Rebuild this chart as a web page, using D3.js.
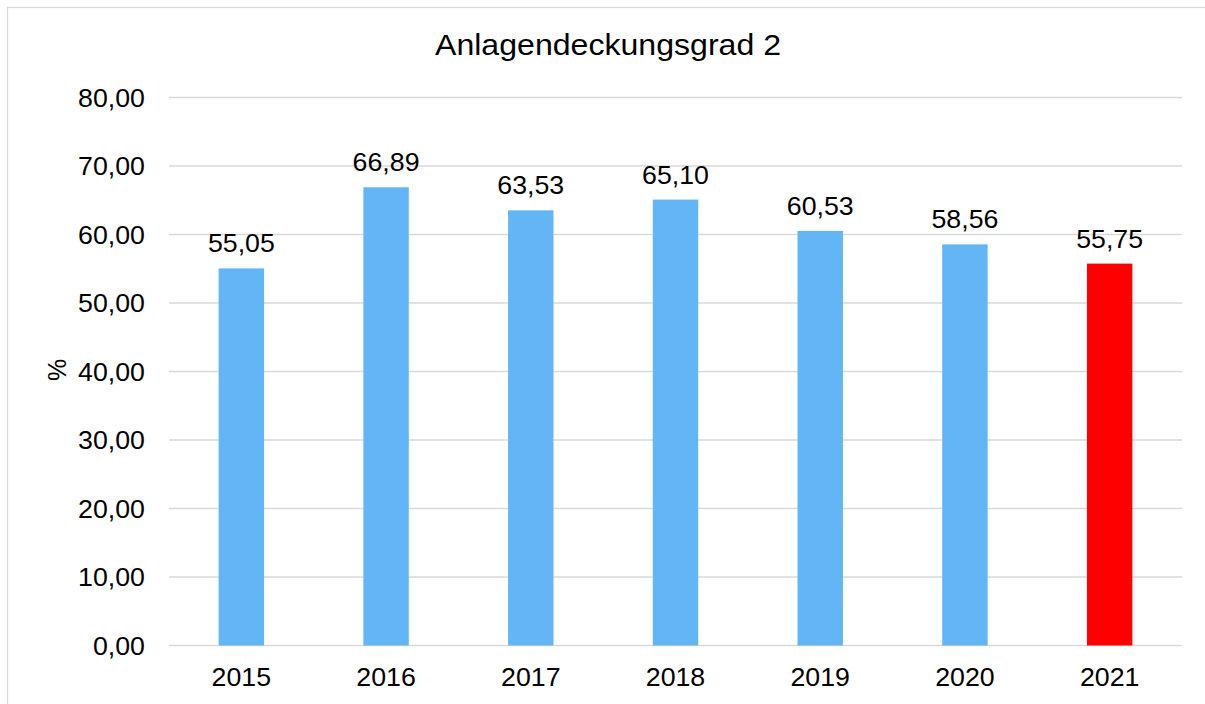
<!DOCTYPE html>
<html>
<head>
<meta charset="utf-8">
<script src="https://cdn.jsdelivr.net/npm/d3@7"></script>
<style>
  html, body { margin: 0; padding: 0; background: #fff; }
  svg { display: block; font-family: "Liberation Sans", Arial, sans-serif; }
</style>
</head>
<body>
<div id="chart"></div>
<script>
// Data
const years = ["2015", "2016", "2017", "2018", "2019", "2020", "2021"];
const values = [55.05, 66.89, 63.53, 65.10, 60.53, 58.56, 55.75];
const yTicks = [0, 10, 20, 30, 40, 50, 60, 70, 80];
const title = "Anlagendeckungsgrad 2";

// Config
const width = 1205, height = 704;
const plot = { left: 169, right: 1182, top: 97.5, bottom: 645.5 };
const blue = "#64B5F6", red = "#FF0000";
const stretch = 1.07; // source text is slightly wide

const fmt = v => d3.format(".2f")(v).replace(".", ",");
const place = (px, py) => `translate(${px},${py}) scale(${stretch},1)`;

const svg = d3.select("#chart").append("svg")
    .attr("width", width)
    .attr("height", height);

// chart frame (clipped at right/bottom like the source)
svg.append("rect")
    .attr("x", 7.5).attr("y", 7.5)
    .attr("width", width).attr("height", height)
    .attr("fill", "#fff")
    .attr("stroke", "#d9d9d9")
    .attr("stroke-width", 1.3);

const x = d3.scaleBand()
    .domain(years)
    .range([plot.left, plot.right])
    .paddingInner(0.686)
    .paddingOuter(0.343);

const y = d3.scaleLinear()
    .domain([0, 80])
    .range([plot.bottom, plot.top]);

// gridlines
svg.append("g")
    .selectAll("line")
    .data(yTicks)
    .join("line")
    .attr("x1", plot.left).attr("x2", plot.right)
    .attr("y1", d => y(d)).attr("y2", d => y(d))
    .attr("stroke", "#d9d9d9")
    .attr("stroke-width", 1.3);

// y tick labels
svg.append("g")
    .selectAll("text")
    .data(yTicks)
    .join("text")
    .attr("transform", d => place(145, y(d)))
    .attr("dy", "0.36em")
    .attr("text-anchor", "end")
    .style("font-size", "25px")
    .attr("fill", "#000")
    .text(fmt);

// bars
svg.append("g")
    .selectAll("rect")
    .data(values)
    .join("rect")
    .attr("x", (d, i) => x(years[i]))
    .attr("y", d => y(d))
    .attr("width", x.bandwidth())
    .attr("height", d => y(0) - y(d))
    .attr("fill", (d, i) => i === values.length - 1 ? red : blue);

// value labels
svg.append("g")
    .selectAll("text")
    .data(values)
    .join("text")
    .attr("transform", (d, i) => place(x(years[i]) + x.bandwidth() / 2, y(d) - 16))
    .attr("text-anchor", "middle")
    .style("font-size", "25px")
    .attr("fill", "#000")
    .text(fmt);

// x labels
svg.append("g")
    .selectAll("text")
    .data(years)
    .join("text")
    .attr("transform", d => place(x(d) + x.bandwidth() / 2, 686))
    .attr("text-anchor", "middle")
    .style("font-size", "25px")
    .attr("fill", "#000")
    .text(d => d);

// y axis title
svg.append("text")
    .attr("transform", "translate(66,370) rotate(-90)")
    .attr("text-anchor", "middle")
    .style("font-size", "25px")
    .attr("fill", "#000")
    .text("%");

// chart title
svg.append("text")
    .attr("transform", place(608, 54.5))
    .attr("text-anchor", "middle")
    .style("font-size", "30px")
    .attr("fill", "#000")
    .text(title);
</script>
</body>
</html>
